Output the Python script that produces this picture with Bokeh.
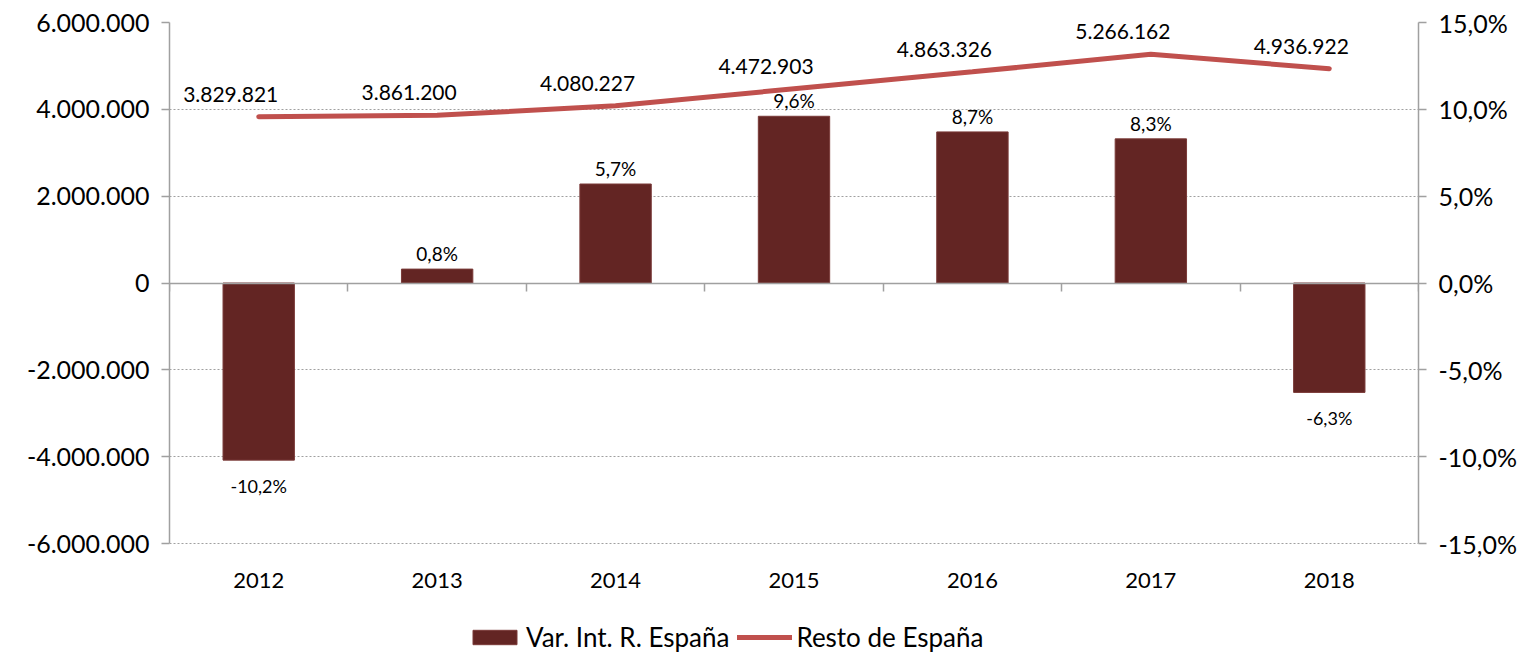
from bokeh.plotting import figure
from bokeh.models import (Range1d, LinearAxis, FixedTicker, ColumnDataSource,
                          Legend, LegendItem, LabelSet)
from bokeh.core.properties import value
from bokeh.embed import file_html
from bokeh.resources import INLINE

years = ["2012", "2013", "2014", "2015", "2016", "2017", "2018"]
var_pct = [-10.2, 0.8, 5.7, 9.6, 8.7, 8.3, -6.3]
resto = [3829821, 3861200, 4080227, 4472903, 4863326, 5266162, 4936922]
left_ticks = [-6000000, -4000000, -2000000, 0, 2000000, 4000000, 6000000]
right_ticks = [-15, -10, -5, 0, 5, 10, 15]

def fmt_int(v):
    return f"{int(v):,}".replace(",", ".")

def fmt_pct(v, d=1):
    return f"{v:.{d}f}".replace(".", ",") + "%"

FONT = "Lato"
BAR = "#632523"
LINE = "#C0504D"
GRID = "#a0a0a0"

# layout (pixels)
W, H = 1525, 654
TOP, LEFT, RIGHT = 22, 169, 107
AXIS_PX = 521  # pixel height spanned by the tick range
frame_h = H - TOP
lo, hi = left_ticks[0], left_ticks[-1]
y_start = hi - (hi - lo) * frame_h / AXIS_PX
ratio = (hi - lo) / (right_ticks[-1] - right_ticks[0])
pct_start = right_ticks[-1] - (hi - y_start) / ratio

xs = [i + 0.5 for i in range(len(years))]
src = ColumnDataSource(dict(
    x=xs, pct=var_pct, resto=resto,
    resto_lbl=[fmt_int(v) for v in resto],
))
pos = ColumnDataSource(dict(x=[x for x, v in zip(xs, var_pct) if v >= 0],
                            pct=[v for v in var_pct if v >= 0],
                            lbl=[fmt_pct(v) for v in var_pct if v >= 0]))
neg = ColumnDataSource(dict(x=[x for x, v in zip(xs, var_pct) if v < 0],
                            pct=[v for v in var_pct if v < 0],
                            lbl=[fmt_pct(v) for v in var_pct if v < 0]))
yr = ColumnDataSource(dict(x=xs, y=[lo] * len(xs), lbl=years))

p = figure(width=W, height=H, output_backend="svg", toolbar_location=None,
           x_axis_location=None,
           x_range=Range1d(0, len(years)), y_range=Range1d(y_start, hi),
           min_border_left=LEFT, min_border_right=RIGHT, min_border_top=TOP, min_border_bottom=0)
p.extra_y_ranges = {"pct": Range1d(pct_start, right_ticks[-1])}
p.outline_line_color = None
p.background_fill_color = "white"

# grid
p.xgrid.visible = False
p.ygrid.ticker = FixedTicker(ticks=left_ticks)
p.ygrid.grid_line_color = GRID
p.ygrid.grid_line_dash = "2 2"
p.ygrid.grid_line_width = 1

# zero-line axis with category boundary ticks (drawn at y=0, ticks pointing down)
zax = LinearAxis(ticker=FixedTicker(ticks=list(range(len(years) + 1))), fixed_location=0)
zax.major_label_text_font_size = "0px"
zax.major_label_text_alpha = 0
zax.major_label_standoff = 0
zax.axis_line_color = GRID
zax.axis_line_width = 1.5
zax.major_tick_line_color = GRID
zax.major_tick_line_width = 1.5
zax.major_tick_in = 8
zax.major_tick_out = 0
zax.minor_tick_line_color = None
p.add_layout(zax, "above")

# left axis
p.yaxis.ticker = FixedTicker(ticks=left_ticks)
p.yaxis.bounds = (lo, hi)
p.yaxis.major_label_overrides = {v: fmt_int(v) for v in left_ticks}
p.yaxis.axis_line_color = GRID
p.yaxis.axis_line_width = 1.5
p.yaxis.major_tick_line_color = GRID
p.yaxis.major_tick_line_width = 1.5
p.yaxis.major_tick_in = 0
p.yaxis.major_tick_out = 8
p.yaxis.minor_tick_line_color = None
p.yaxis.major_label_text_font = FONT
p.yaxis.major_label_text_font_size = "25px"
p.yaxis.major_label_text_color = "black"
p.yaxis.major_label_standoff = 12

# right axis
rax = LinearAxis(y_range_name="pct", ticker=FixedTicker(ticks=right_ticks),
                 bounds=(right_ticks[0], right_ticks[-1]))
rax.major_label_overrides = {v: fmt_pct(v) for v in right_ticks}
rax.axis_line_color = GRID
rax.axis_line_width = 1.5
rax.major_tick_line_color = GRID
rax.major_tick_line_width = 1.5
rax.major_tick_in = 0
rax.major_tick_out = 8
rax.minor_tick_line_color = None
rax.major_label_text_font = FONT
rax.major_label_text_font_size = "25px"
rax.major_label_text_color = "black"
rax.major_label_standoff = 12
p.add_layout(rax, "right")

bars = p.vbar(x="x", top="pct", bottom=0, width=0.4, source=src, y_range_name="pct",
              fill_color=BAR, line_color="#7a3a38", line_width=1)
line = p.line(x="x", y="resto", source=src, line_color=LINE, line_width=5, line_cap="round")

# year labels under the bottom of the value scale
p.add_layout(LabelSet(x="x", y="y", text="lbl", source=yr,
                      text_align="center", text_baseline="middle", y_offset=-37,
                      text_font=value(FONT), text_font_size=value("22px"), text_color="black"))

p.add_layout(LabelSet(x="x", y="pct", text="lbl", source=pos, y_range_name="pct",
                      text_align="center", text_baseline="bottom", y_offset=4,
                      text_font=value(FONT), text_font_size=value("19px"), text_color="black"))
p.add_layout(LabelSet(x="x", y="pct", text="lbl", source=neg, y_range_name="pct",
                      text_align="center", text_baseline="top", y_offset=-15,
                      text_font=value(FONT), text_font_size=value("18px"), text_color="black"))
p.add_layout(LabelSet(x="x", y="resto", text="resto_lbl", source=src,
                      text_align="center", text_baseline="bottom", x_offset=-28, y_offset=15,
                      text_font=value(FONT), text_font_size=value("21px"), text_color="black"))

legend = Legend(items=[LegendItem(label="Var. Int. R. España", renderers=[bars]),
                       LegendItem(label="Resto de España", renderers=[line])],
                orientation="horizontal", location=(298, 1),
                glyph_width=55, glyph_height=18, label_standoff=4, spacing=8,
                padding=0, margin=0, border_line_color=None, background_fill_alpha=0,
                label_text_font=FONT, label_text_font_size="26px", label_text_color="black")
p.add_layout(legend, "center")

open("out.html", "w").write(file_html(p, INLINE))
